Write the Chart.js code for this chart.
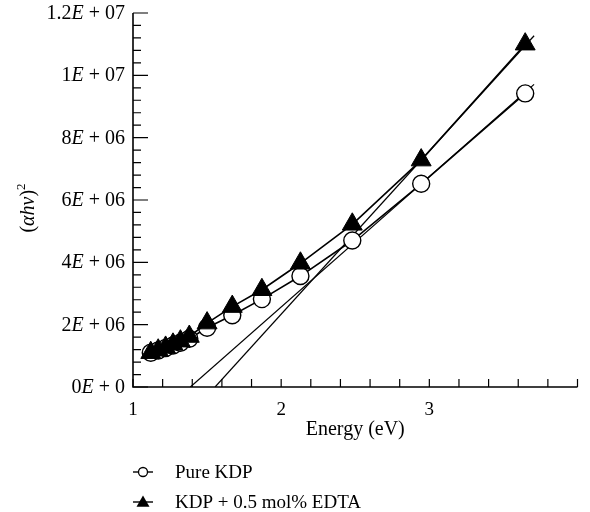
<!DOCTYPE html>
<html>
<head>
<meta charset="utf-8">
<script src="https://cdn.jsdelivr.net/npm/chart.js@4.4.0/dist/chart.umd.min.js"></script>
<style>
    body { margin: 0; background: #ffffff; }
    #box { width: 590px; height: 512px; }
</style>
</head>
<body>
<div id="box"><canvas id="taucChart"></canvas></div>
<script>
'use strict'

// Photon energy (eV) shared by both samples.
const energy = [1.12, 1.17, 1.22, 1.27, 1.32, 1.38, 1.50, 1.67, 1.87, 2.13, 2.48, 2.945, 3.647];

// (alpha h nu)^2 for each sample.
const pureKdp = [1.10e6, 1.17e6, 1.25e6, 1.33e6, 1.42e6, 1.55e6, 1.90e6, 2.30e6, 2.82e6, 3.56e6, 4.70e6, 6.52e6, 9.42e6];
const edtaKdp = [1.10e6, 1.18e6, 1.27e6, 1.37e6, 1.47e6, 1.62e6, 2.05e6, 2.58e6, 3.12e6, 3.97e6, 5.22e6, 7.28e6, 11.0e6];

// Straight line extrapolations down to the energy axis.
const pureFitX = [1.387, 3.707];
const pureFitY = [0, 9.71e6];
const edtaFitX = [1.554, 3.707];
const edtaFitY = [0, 11.27e6];

const seriesNames = ['Pure KDP', 'KDP + 0.5 mol% EDTA'];

const xTickValues = [1, 2, 3];
const xTickLabels = ['1', '2', '3'];
const yTickValues = [0, 2e6, 4e6, 6e6, 8e6, 1e7, 1.2e7];
const yTickLabels = ['0E + 0', '2E + 06', '4E + 06', '6E + 06', '8E + 06', '1E + 07', '1.2E + 07'];

const SERIF = '"Liberation Serif", "DejaVu Serif", serif';

window.onload = function() {
    printTaucChart();
}

function toPoints(xs, ys) {
    return xs.map((x, i) => ({ x: x, y: ys[i] }));
}

/**
 * Draws a label like "1.2E + 07" right aligned, with the E in italics.
 */
function drawSciLabel(ctx, text, xRight, y) {
    let parts = text.split('E');
    let upright = '20px ' + SERIF;
    let italic = 'italic 20px ' + SERIF;

    ctx.font = upright;
    let w0 = ctx.measureText(parts[0]).width;
    let w2 = ctx.measureText(parts[1]).width;
    ctx.font = italic;
    let w1 = ctx.measureText('E').width;

    let x = xRight - w0 - w1 - w2;
    ctx.textAlign = 'left';
    ctx.font = upright;
    ctx.fillText(parts[0], x, y);
    ctx.font = italic;
    ctx.fillText('E', x + w0, y);
    ctx.font = upright;
    ctx.fillText(parts[1], x + w0 + w1, y);
}

function drawMarker(ctx, style, x, y, r) {
    ctx.beginPath();
    if (style === 'circle') {
        ctx.arc(x, y, r, 0, Math.PI * 2);
        ctx.fillStyle = '#ffffff';
        ctx.fill();
        ctx.lineWidth = 1.3;
        ctx.stroke();
    } else {
        ctx.moveTo(x, y - r);
        ctx.lineTo(x + r * Math.sin(Math.PI * 2 / 3), y + r / 2);
        ctx.lineTo(x - r * Math.sin(Math.PI * 2 / 3), y + r / 2);
        ctx.closePath();
        ctx.fillStyle = '#000000';
        ctx.fill();
    }
}

// Axes with inward ticks, tick labels, titles and the legend under the plot.
const axesPlugin = {
    id: 'axesPlugin',
    afterDraw(chart) {
        const ctx = chart.ctx;
        const area = chart.chartArea;
        const xs = chart.scales.x;
        const ys = chart.scales.y;

        ctx.save();
        ctx.strokeStyle = '#000000';
        ctx.fillStyle = '#000000';

        // Axis lines.
        ctx.lineWidth = 1.6;
        ctx.beginPath();
        ctx.moveTo(area.left, area.top);
        ctx.lineTo(area.left, area.bottom);
        ctx.lineTo(area.right, area.bottom);
        ctx.stroke();

        // Ticks pointing into the plot.
        ctx.lineWidth = 1.2;
        ctx.beginPath();
        ys.ticks.forEach((t) => {
            let py = ys.getPixelForValue(t.value);
            let major = yTickValues.some((v) => Math.abs(v - t.value) < 1);
            ctx.moveTo(area.left, py);
            ctx.lineTo(area.left + (major ? 15 : 8), py);
        });
        xs.ticks.forEach((t) => {
            let px = xs.getPixelForValue(t.value);
            ctx.moveTo(px, area.bottom);
            ctx.lineTo(px, area.bottom - 8);
        });
        ctx.stroke();

        // Tick labels.
        ctx.textBaseline = 'alphabetic';
        yTickValues.forEach((v, i) => {
            drawSciLabel(ctx, yTickLabels[i], area.left - 8, ys.getPixelForValue(v) + 6);
        });
        ctx.font = '19px ' + SERIF;
        ctx.textAlign = 'center';
        xTickValues.forEach((v, i) => {
            ctx.fillText(xTickLabels[i], xs.getPixelForValue(v), 415);
        });

        // Axis titles.
        ctx.font = '20px ' + SERIF;
        ctx.fillText('Energy (eV)', (area.left + area.right) / 2, 435);

        ctx.save();
        ctx.translate(34, 208);
        ctx.rotate(-Math.PI / 2);
        let pieces = [
            ['(', '20px ' + SERIF, 0],
            ['\u03b1h\u03bd', 'italic 20px ' + SERIF, 0],
            [')', '20px ' + SERIF, 0],
            ['2', '13px ' + SERIF, -9]
        ];
        let total = 0;
        pieces.forEach((p) => { ctx.font = p[1]; total += ctx.measureText(p[0]).width; });
        let cx = -total / 2;
        ctx.textAlign = 'left';
        pieces.forEach((p) => {
            ctx.font = p[1];
            ctx.fillText(p[0], cx, p[2]);
            cx += ctx.measureText(p[0]).width;
        });
        ctx.restore();

        // Legend.
        const legendRows = [
            { name: seriesNames[0], style: 'circle', r: 4.5, y: 472 },
            { name: seriesNames[1], style: 'triangle', r: 7.5, y: 502 }
        ];
        legendRows.forEach((row) => {
            ctx.lineWidth = 1.4;
            ctx.beginPath();
            ctx.moveTo(133, row.y);
            ctx.lineTo(153, row.y);
            ctx.stroke();
            drawMarker(ctx, row.style, 143, row.y + (row.style === 'triangle' ? 1 : 0), row.r);
            ctx.fillStyle = '#000000';
            ctx.font = '19px ' + SERIF;
            ctx.textAlign = 'left';
            ctx.fillText(row.name, 175, row.y + 6);
        });

        ctx.restore();
    }
};

function printTaucChart() {
    const ctx = document.getElementById('taucChart').getContext('2d');
    const taucChart = new Chart(ctx, {
        type: 'scatter',
        data: {
            datasets: [{
                label: seriesNames[1],
                data: toPoints(energy, edtaKdp),
                showLine: true,
                borderColor: '#000000',
                borderWidth: 1.6,
                pointStyle: 'triangle',
                pointRadius: 11.5,
                pointBackgroundColor: '#000000',
                pointBorderColor: '#000000',
                pointBorderWidth: 1,
                order: 0
            }, {
                label: seriesNames[0],
                data: toPoints(energy, pureKdp),
                showLine: true,
                borderColor: '#000000',
                borderWidth: 1.6,
                pointStyle: 'circle',
                pointRadius: 8.5,
                pointBackgroundColor: '#ffffff',
                pointBorderColor: '#000000',
                pointBorderWidth: 1.4,
                order: 1
            }, {
                label: 'fit pure',
                data: toPoints(pureFitX, pureFitY),
                showLine: true,
                borderColor: '#000000',
                borderWidth: 1.2,
                pointRadius: 0,
                order: 2
            }, {
                label: 'fit edta',
                data: toPoints(edtaFitX, edtaFitY),
                showLine: true,
                borderColor: '#000000',
                borderWidth: 1.2,
                pointRadius: 0,
                order: 2
            }]
        },
        options: {
            responsive: true,
            maintainAspectRatio: false,
            animation: false,
            events: [],
            layout: {
                padding: { top: 13, right: 4, left: 0, bottom: 0 }
            },
            scales: {
                x: {
                    type: 'linear',
                    min: 1,
                    max: 4,
                    ticks: { display: false, stepSize: 0.2 },
                    grid: { display: false },
                    border: { display: false },
                    afterFit: function(scale) { scale.height = 125; }
                },
                y: {
                    type: 'linear',
                    min: 0,
                    max: 1.2e7,
                    ticks: { display: false, stepSize: 4e5 },
                    grid: { display: false },
                    border: { display: false },
                    afterFit: function(scale) { scale.width = 133; }
                }
            },
            plugins: {
                legend: { display: false },
                tooltip: { enabled: false }
            }
        },
        plugins: [axesPlugin]
    });
}
</script>
</body>
</html>
